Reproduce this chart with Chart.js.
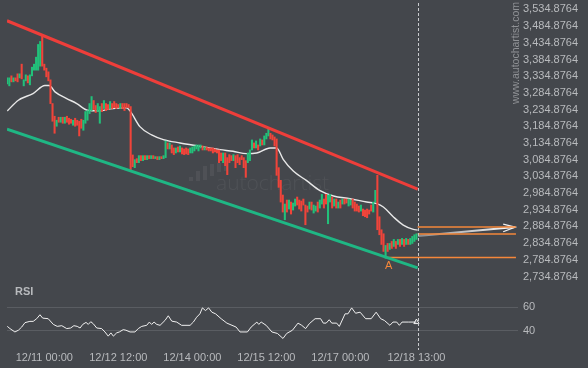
<!DOCTYPE html>
<html><head><meta charset="utf-8">
<script src="https://cdn.jsdelivr.net/npm/chart.js@4"></script>
<style>html,body{margin:0;padding:0;background:#44474c;overflow:hidden}canvas{display:block}</style>
</head><body><canvas id="c" width="588" height="368"></canvas>
<script>
// ---- data (hours counted from 12/11 00:00) ----
const candleStartHour = -18;
const opens = [
3312,3306,3336,3318,3330,3342,3330,3371,3306,3321,
3336,3309,3336,3353,3353,3353,3365,3457,3371,3359,
3348,3324,3253,3215,3185,3212,3197,3212,3194,3215,
3209,3206,3188,3209,3203,3200,3206,3173,3194,3203,
3223,3232,3262,3247,3229,3194,3253,3238,3253,3250,
3238,3253,3259,3253,3250,3238,3253,3253,3253,3250,
3244,3099,3061,3088,3076,3097,3082,3097,3085,3097,
3088,3097,3088,3094,3085,3094,3088,3091,3135,3117,
3129,3120,3105,3123,3108,3120,3117,3120,3117,3105,
3105,3111,3117,3111,3120,3126,3114,3123,3120,3120,
3120,3117,3114,3114,3105,3076,3105,3091,3100,3097,
3082,3097,3100,3091,3097,3091,3082,3076,3082,3114,
3135,3120,3129,3126,3144,3129,3147,3156,3164,3159,
3153,3147,3061,3023,2979,2905,2964,2937,2958,2934,
2946,2973,2964,2961,2967,2949,2946,2937,2958,2925,
2931,2958,2940,2952,2967,2981,2893,2958,2973,2946,
2967,2940,2964,2952,2967,2967,2946,2949,2967,2958,
2952,2946,2931,2937,2934,2937,2934,2949,2928,2958,
3038,2914,2875,2863,2790,2834,2816,2840,2825,2840,
2831,2846,2831,2846,2831,2846,2831,2834,2840,2846];
const closes = [
3330,3330,3318,3330,3321,3318,3342,3327,3324,3339,
3315,3339,3362,3371,3392,3430,3439,3365,3353,3333,
3321,3253,3200,3164,3203,3197,3212,3194,3212,3197,
3191,3194,3203,3185,3188,3156,3179,3203,3229,3232,
3253,3274,3235,3226,3253,3244,3229,3262,3232,3235,
3259,3238,3241,3238,3241,3253,3238,3232,3241,3241,
3052,3064,3085,3076,3097,3082,3097,3085,3097,3088,
3097,3088,3094,3085,3094,3088,3097,3141,3117,3135,
3105,3100,3120,3108,3126,3102,3100,3102,3100,3120,
3123,3126,3129,3129,3129,3114,3123,3114,3111,3111,
3105,3108,3105,3076,3082,3105,3067,3040,3076,3082,
3100,3061,3076,3070,3085,3061,3032,3105,3114,3144,
3120,3141,3114,3147,3129,3156,3164,3179,3147,3144,
3126,3038,3002,2958,2928,2952,2928,2964,2922,2955,
2967,2949,2937,2931,2949,2890,2928,2958,2934,2949,
2946,2928,2964,2981,2940,2952,2979,2981,2940,2967,
2940,2958,2940,2967,2952,2955,2967,2964,2940,2931,
2931,2928,2949,2917,2914,2911,2922,2931,2958,2993,
2875,2860,2831,2810,2828,2810,2834,2819,2846,2819,
2846,2825,2849,2825,2849,2831,2849,2855,2860,2863];

const maHours  = [-18,-12.6,-5.5,0.3,2.4,5.2,10.9,15.8,20.9,27.1,32,40,41.7,46.5,52.2,57.9,66,75.7,85.5,91.8,98.4,103.3,109.8,113,116.2,121.1,127.6,134.1,140.6,148.7,156.8,161.7,164.9,169.7,174.6,179.5,181.6];
const maValues = [3231,3263,3283,3307,3307,3288,3268,3253,3233,3231,3237,3240,3231,3184,3159,3145,3135,3125,3115,3110,3103,3105,3120,3120,3086,3051,3022,2992,2976,2968,2958,2953,2943,2914,2889,2876,2874];

const rsiHours  = [-18,-16.7,-14.3,-12.6,-11,-9.4,-7,-5.4,-3.7,-2.1,-0.8,1.9,4.4,6.3,8.5,10.9,12.8,14.4,16,17.4,18.7,20.3,21.4,22.6,23.8,25.5,27.9,29.5,31.1,32.4,33.6,35.2,36.5,38.4,39.7,41.7,44.1,45.7,47.4,49.8,51.1,52.2,53.4,54.7,56.3,58.7,60.3,62,64.4,66.8,70.9,72.5,74.1,75.7,76.9,78.4,79.9,81.5,83.3,86,88.8,93.3,95.2,98.8,100.6,103.4,104.3,105.5,107.9,110.7,113.4,116.1,117.9,120.7,123.4,125.2,127.1,128.9,131.7,134.4,135.7,137.1,138.6,139.8,142.2,143.5,146.3,147.7,149.5,151.4,153.6,156.3,159,161.4,163.6,165.4,168.1,169.6,171.4,172.7,174,177.2,181];
const rsiValues = [43.6,41.7,38.8,40.3,43,46.8,47.9,47.9,50.2,53.6,50.7,50.2,45.3,43.6,44.2,41.7,42.2,44.2,43.6,42.2,45.3,47,45.3,47.6,45.9,42.2,41.7,38.8,35.2,38,35.2,38,38.8,40.8,40.3,38.8,38.8,41.7,43.6,44.5,47.3,45.3,47.3,45.3,44.5,48.7,52.7,48.1,47.3,44.5,44.5,47.3,51.5,54.4,59.5,57.2,59.5,55.8,54.4,50.2,46.4,43,38.8,38.8,43,47.3,45.3,47.3,44.5,38.8,37.5,33.2,37.5,40.3,46.4,44.5,41.7,45.9,50.2,50.2,46.4,46.4,49.3,46.4,46.4,43.6,54.4,54.4,59.5,54.9,55.8,50.2,50.2,55.8,50.2,48.7,44.5,47.3,47.3,44.5,47.3,47.3,47.3];

const resistanceHours = [-18.14, 181.6];
const resistanceValues = [3501, 2997];
const supportHours = [-18.14, 181.6];
const supportValues = [3176, 2761];
const targetHours = [181.6, 229.4];
const targetUpper = [2883, 2883];
const targetLower = [2862.4, 2862.4];
const pointAHours = [166, 229.4];
const pointAValues = [2791.6, 2791.6];
const arrowHours = [181.8, 229.0];
const arrowValues = [2856.5, 2883];
const arrowHeadHours = [223.2, 229.0, 223.2];
const arrowHeadValues = [2892, 2883, 2869];
const nowHour = 181.6;
const pointAHour = 166;
const pointALow = 2790;

const priceTicks = [3534.8764,3484.8764,3434.8764,3384.8764,3334.8764,3284.8764,3234.8764,3184.8764,3134.8764,3084.8764,3034.8764,2984.8764,2934.8764,2884.8764,2834.8764,2784.8764,2734.8764];
const rsiTicks = [40, 60];
const xTickHours = [0, 36, 72, 108, 144, 181];
const xTickLabels = ['12/11 00:00','12/12 12:00','12/14 00:00','12/15 12:00','12/17 00:00','12/18 13:00'];

// ---- styling ----
const BG = '#44474c', UP = '#22c17a', DOWN = '#f0443a', RED = '#ee3e3a', GREEN = '#1fb784', ORANGE = '#f5873a';
const LABEL = '#b8babd', FONT = "'Liberation Sans', Arial, sans-serif";

const candleData = opens.map((o, i) => ({x: candleStartHour + i, y: [o, closes[i]]}));
const candleColors = opens.map((o, i) => closes[i] >= o ? UP : DOWN);
const pts = (hs, vs) => hs.map((h, i) => ({x: h, y: vs[i]}));

const lineBase = {type: 'line', pointRadius: 0, fill: false, yAxisID: 'y', tension: 0};
const noPad = s => { s.paddingTop = 0; s.paddingBottom = 0; s.paddingLeft = 0; s.paddingRight = 0; };

const decor = {
  id: 'decor',
  beforeDraw(chart) {
    const c = chart.ctx;
    c.save();
    c.fillStyle = BG;
    c.fillRect(0, 0, chart.width, chart.height);
    // watermark
    c.fillStyle = 'rgba(255,255,255,0.06)';
    const bars = [[189,177,4,4],[196,171,4,10],[203,166,4,14],[210,164,4,12],[217,163,4,9],[224,163,4,8]];
    bars.forEach(b => c.fillRect(b[0], b[1], b[2], b[3]));
    c.font = "300 21px 'Open Sans', sans-serif";
    c.textBaseline = 'alphabetic';
    c.textAlign = 'left';
    c.fillText('autochartist', 216, 190);
    // vertical site text
    c.translate(516, 2);
    c.rotate(-Math.PI / 2);
    c.fillStyle = '#8f9195';
    c.font = "10.5px " + FONT;
    c.textAlign = 'right';
    c.textBaseline = 'middle';
    c.fillText('www.autochartist.com', 0, 0);
    c.restore();
  },
  afterDatasetsDraw(chart) {
    const c = chart.ctx, xs = chart.scales.x, ys = chart.scales.y, rs = chart.scales.rsi;
    c.save();
    const xn = Math.round(xs.getPixelForValue(nowHour)) + 0.5;
    c.strokeStyle = '#c9cbce';
    c.lineWidth = 1;
    c.setLineDash([3, 2]);
    c.beginPath();
    c.moveTo(xn, 3);
    c.lineTo(xn, rs.bottom + 2);
    c.stroke();
    c.setLineDash([]);
    c.fillStyle = ORANGE;
    c.font = "11px " + FONT;
    c.textAlign = 'center';
    c.textBaseline = 'middle';
    c.fillText('A', xs.getPixelForValue(pointAHour) + 3, ys.getPixelForValue(pointALow) + 8);
    c.fillStyle = LABEL;
    c.font = "bold 11px " + FONT;
    c.textAlign = 'left';
    c.fillText('RSI', chart.chartArea.left + 8, rs.top + 8);
    c.restore();
  }
};

new Chart(document.getElementById('c'), {
  type: 'bar',
  data: {
    datasets: [
      {label: 'resistance', ...lineBase, data: pts(resistanceHours, resistanceValues), borderColor: RED, borderWidth: 3},
      {label: 'support', ...lineBase, data: pts(supportHours, supportValues), borderColor: GREEN, borderWidth: 3},
      {label: 'candles', type: 'bar', data: candleData, backgroundColor: candleColors, barThickness: 1.4, grouped: false, yAxisID: 'y', borderWidth: 0},
      {label: 'ma', ...lineBase, data: pts(maHours, maValues), borderColor: '#e8e8e8', borderWidth: 1.4, cubicInterpolationMode: 'monotone'},
      {label: 'upper', ...lineBase, data: pts(targetHours, targetUpper), borderColor: ORANGE, borderWidth: 1.5},
      {label: 'lower', ...lineBase, data: pts(targetHours, targetLower), borderColor: ORANGE, borderWidth: 1.5},
      {label: 'pointA', ...lineBase, data: pts(pointAHours, pointAValues), borderColor: ORANGE, borderWidth: 1.5},
      {label: 'arrow', ...lineBase, data: pts(arrowHours, arrowValues), borderWidth: 2,
        borderColor: (ctx) => {
          const ch = ctx.chart;
          if (!ch.chartArea) return '#ffffff';
          const xs = ch.scales.x;
          const g = ch.ctx.createLinearGradient(xs.getPixelForValue(arrowHours[0]), 0, xs.getPixelForValue(arrowHours[1]), 0);
          g.addColorStop(0, '#8a8c90');
          g.addColorStop(1, '#ffffff');
          return g;
        }},
      {label: 'arrowHead', ...lineBase, data: pts(arrowHeadHours, arrowHeadValues), borderColor: '#f2f2f2', borderWidth: 1.3},
      {label: 'rsi', ...lineBase, yAxisID: 'rsi', data: pts(rsiHours, rsiValues), borderColor: '#f0f0f0', borderWidth: 1,
        pointRadius: rsiValues.map((v, i) => i === rsiValues.length - 1 ? 3 : 0),
        pointStyle: 'triangle', pointBackgroundColor: 'rgba(0,0,0,0)', pointBorderColor: '#f0f0f0', pointBorderWidth: 1}
    ]
  },
  options: {
    responsive: false,
    animation: false,
    devicePixelRatio: 1,
    layout: {padding: {left: 7, top: 0, right: 0, bottom: 0}},
    plugins: {legend: {display: false}, tooltip: {enabled: false}},
    scales: {
      x: {
        type: 'linear', min: -18.14, max: 230.4, offset: false,
        grid: {display: false, drawTicks: false}, border: {display: false},
        afterBuildTicks: s => { s.ticks = xTickHours.map(v => ({value: v})); },
        afterFit: s => { s.height = 20; noPad(s); },
        ticks: {autoSkip: false, maxRotation: 0, color: LABEL, font: {family: FONT, size: 11}, padding: 3,
          callback: (v, i) => xTickLabels[i]}
      },
      y: {
        type: 'linear', position: 'right', stack: 'panes', stackWeight: 283, min: 2712.7, max: 3548.2,
        grid: {display: false, drawTicks: false}, border: {display: false},
        afterBuildTicks: s => { s.ticks = priceTicks.map(v => ({value: v})); },
        afterFit: s => { s.width = 70; noPad(s); },
        ticks: {autoSkip: false, color: LABEL, font: {family: FONT, size: 11}, padding: 5,
          callback: v => v.toLocaleString('en-US', {minimumFractionDigits: 4, maximumFractionDigits: 4})}
      },
      rsi: {
        type: 'linear', position: 'right', stack: 'panes', stackWeight: 65, min: 25, max: 80.1,
        grid: {color: '#5a5d62', drawTicks: false, lineWidth: 1}, border: {display: false},
        afterBuildTicks: s => { s.ticks = rsiTicks.map(v => ({value: v})); },
        afterFit: s => { s.width = 70; noPad(s); },
        ticks: {autoSkip: false, color: LABEL, font: {family: FONT, size: 11}, padding: 5}
      }
    }
  },
  plugins: [decor]
});
</script>
</body></html>
